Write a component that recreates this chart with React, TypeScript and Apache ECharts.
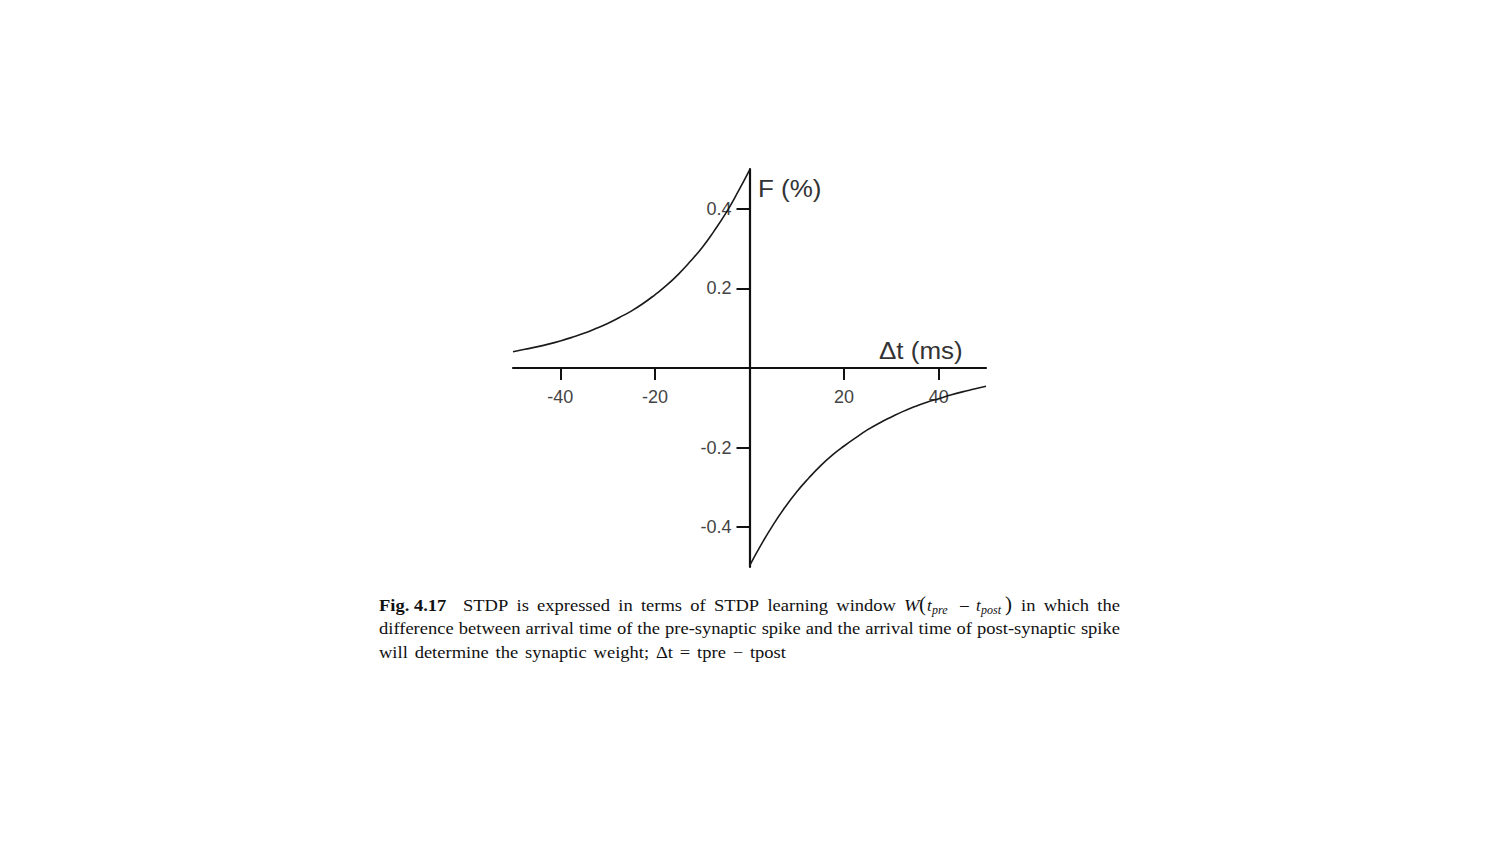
import React, { useEffect, useRef } from 'react';
import * as echarts from 'echarts';

// Δt (ms) and F (%)
const leftDt = [-50, -47.5, -45, -42.5, -40, -37.5, -35, -32.5, -30, -27.5, -25, -22.5, -20, -17.5, -15, -12.5, -10, -7.5, -5, -2.5, 0];
const leftF = [0.041, 0.047, 0.053, 0.06, 0.068, 0.077, 0.087, 0.099, 0.112, 0.127, 0.143, 0.162, 0.184, 0.208, 0.236, 0.268, 0.303, 0.344, 0.389, 0.441, 0.497];
const rightDt = [0, 2.5, 5, 7.5, 10, 12.5, 15, 17.5, 20, 22.5, 25, 27.5, 30, 32.5, 35, 37.5, 40, 42.5, 45, 47.5, 50];
const rightF = [-0.497, -0.443, -0.394, -0.35, -0.311, -0.277, -0.246, -0.219, -0.196, -0.175, -0.155, -0.138, -0.123, -0.109, -0.097, -0.086, -0.077, -0.068, -0.06, -0.053, -0.046];

const xTicks = [-40, -20, 20, 40];
const yTicks = [-0.4, -0.2, 0.2, 0.4];

const xName = 'Δt (ms)';
const yName = 'F (%)';

const capBold = 'Fig. 4.17';
const capLine1Words = ['STDP', 'is', 'expressed', 'in', 'terms', 'of', 'STDP', 'learning', 'window'];
const capLine1Tail = ['in', 'which', 'the'];
const capLine2Words = 'difference between arrival time of the pre-synaptic spike and the arrival time of post-synaptic spike'.split(' ');
const capLine3Words = 'will determine the synaptic weight; Δt = tpre − tpost'.split(' ');

const SANS = '"Liberation Sans", Arial, sans-serif';
const SERIF = '"Liberation Serif", "Times New Roman", serif';
const CAP_FONT = `17px ${SERIF}`;
const CAP_SX = 1.09;

function measure(text: string, font: string): number {
  const t = new (echarts.graphic as any).Text({ style: { text, font } });
  return t.getBoundingRect().width;
}

function justify(words: string[], x0: number, x1: number, y: number, font: string, sx = CAP_SX): any[] {
  const ws = words.map((w) => measure(w, font) * sx);
  const total = ws.reduce((a, b) => a + b, 0);
  const gap = words.length > 1 ? (x1 - x0 - total) / (words.length - 1) : 0;
  let x = x0;
  return words.map((w, i) => {
    const el = {
      type: 'text',
      x,
      y,
      scaleX: sx,
      style: { text: w, font, fill: '#111', align: 'left', verticalAlign: 'middle', textAlign: 'left', textVerticalAlign: 'middle' },
    };
    x += ws[i] + gap;
    return el;
  });
}

function txt(text: string, x: number, y: number, font: string, fill = '#111', scaleX = 1): any {
  return {
    type: 'text',
    x,
    y,
    scaleX,
    style: { text, font, fill, align: 'left', verticalAlign: 'middle', textAlign: 'left', textVerticalAlign: 'middle' },
  };
}

export default function App() {
  const ref = useRef<HTMLDivElement>(null);

  useEffect(() => {
    if (!ref.current) return;
    const chart = echarts.init(ref.current, undefined, { renderer: 'svg' });

    const y1 = 605;
    const y2 = 628.5;
    const y3 = 652;
    const ital = `italic 17px ${SERIF}`;
    const sub = `italic 12px ${SERIF}`;

    const graphics: any[] = [
      txt(yName, 758, 189, `23px ${SANS}`, '#333', 1.13),
      txt(xName, 879, 351, `23px ${SANS}`, '#333', 1.13),
      txt(capBold, 379, y1, `bold 17px ${SERIF}`, '#111', CAP_SX),
      ...justify(capLine1Words, 463, 896, y1, CAP_FONT),
      txt('W', 904, y1, ital, '#111', CAP_SX),
      txt('(', 919, y1 - 1, `21px ${SERIF}`),
      txt('t', 927, y1, ital),
      txt('pre', 932, y1 + 5, sub),
      txt('−', 959, y1 + 1, `19px ${SERIF}`),
      txt('t', 976, y1, ital),
      txt('post', 981, y1 + 5, sub),
      txt(')', 1005, y1 - 1, `21px ${SERIF}`),
      ...justify(capLine1Tail, 1021, 1120, y1, CAP_FONT),
      ...justify(capLine2Words, 379, 1120, y2, CAP_FONT),
      ...justify(capLine3Words, 379, 786, y3, CAP_FONT),
    ];

    chart.setOption({
      animation: false,
      backgroundColor: '#ffffff',
      grid: { left: 513, top: 169, width: 473, height: 398, containLabel: false },
      xAxis: {
        type: 'value',
        min: -50,
        max: 50,
        position: 'bottom',
        offset: -199,
        axisLine: { onZero: false, lineStyle: { color: '#111', width: 2.2 } },
        axisTick: { customValues: xTicks, length: 12, lineStyle: { color: '#111', width: 2 } },
        axisLabel: { customValues: xTicks, color: '#444', fontSize: 18, fontFamily: SANS, margin: 20 },
        splitLine: { show: false },
      },
      yAxis: {
        type: 'value',
        min: -0.5,
        max: 0.5,
        position: 'left',
        offset: -236.5,
        axisLine: { onZero: false, lineStyle: { color: '#111', width: 2.2 } },
        axisTick: { customValues: yTicks, length: 13, lineStyle: { color: '#111', width: 2 } },
        axisLabel: {
          customValues: yTicks,
          color: '#444',
          fontSize: 18,
          fontFamily: SANS,
          margin: 18,
          formatter: (v: number) => String(Math.round(v * 10) / 10),
        },
        splitLine: { show: false },
      },
      series: [
        {
          type: 'line',
          data: leftDt.map((d, i) => [d, leftF[i]]),
          smooth: true,
          showSymbol: false,
          lineStyle: { color: '#1a1a1a', width: 1.6 },
          z: 3,
        },
        {
          type: 'line',
          data: rightDt.map((d, i) => [d, rightF[i]]),
          smooth: true,
          showSymbol: false,
          lineStyle: { color: '#1a1a1a', width: 1.6 },
          z: 3,
        },
      ],
      graphic: graphics,
    });

    return () => chart.dispose();
  }, []);

  return <div ref={ref} style={{ position: 'absolute', left: 0, top: 0, width: 1500, height: 844 }} />;
}
